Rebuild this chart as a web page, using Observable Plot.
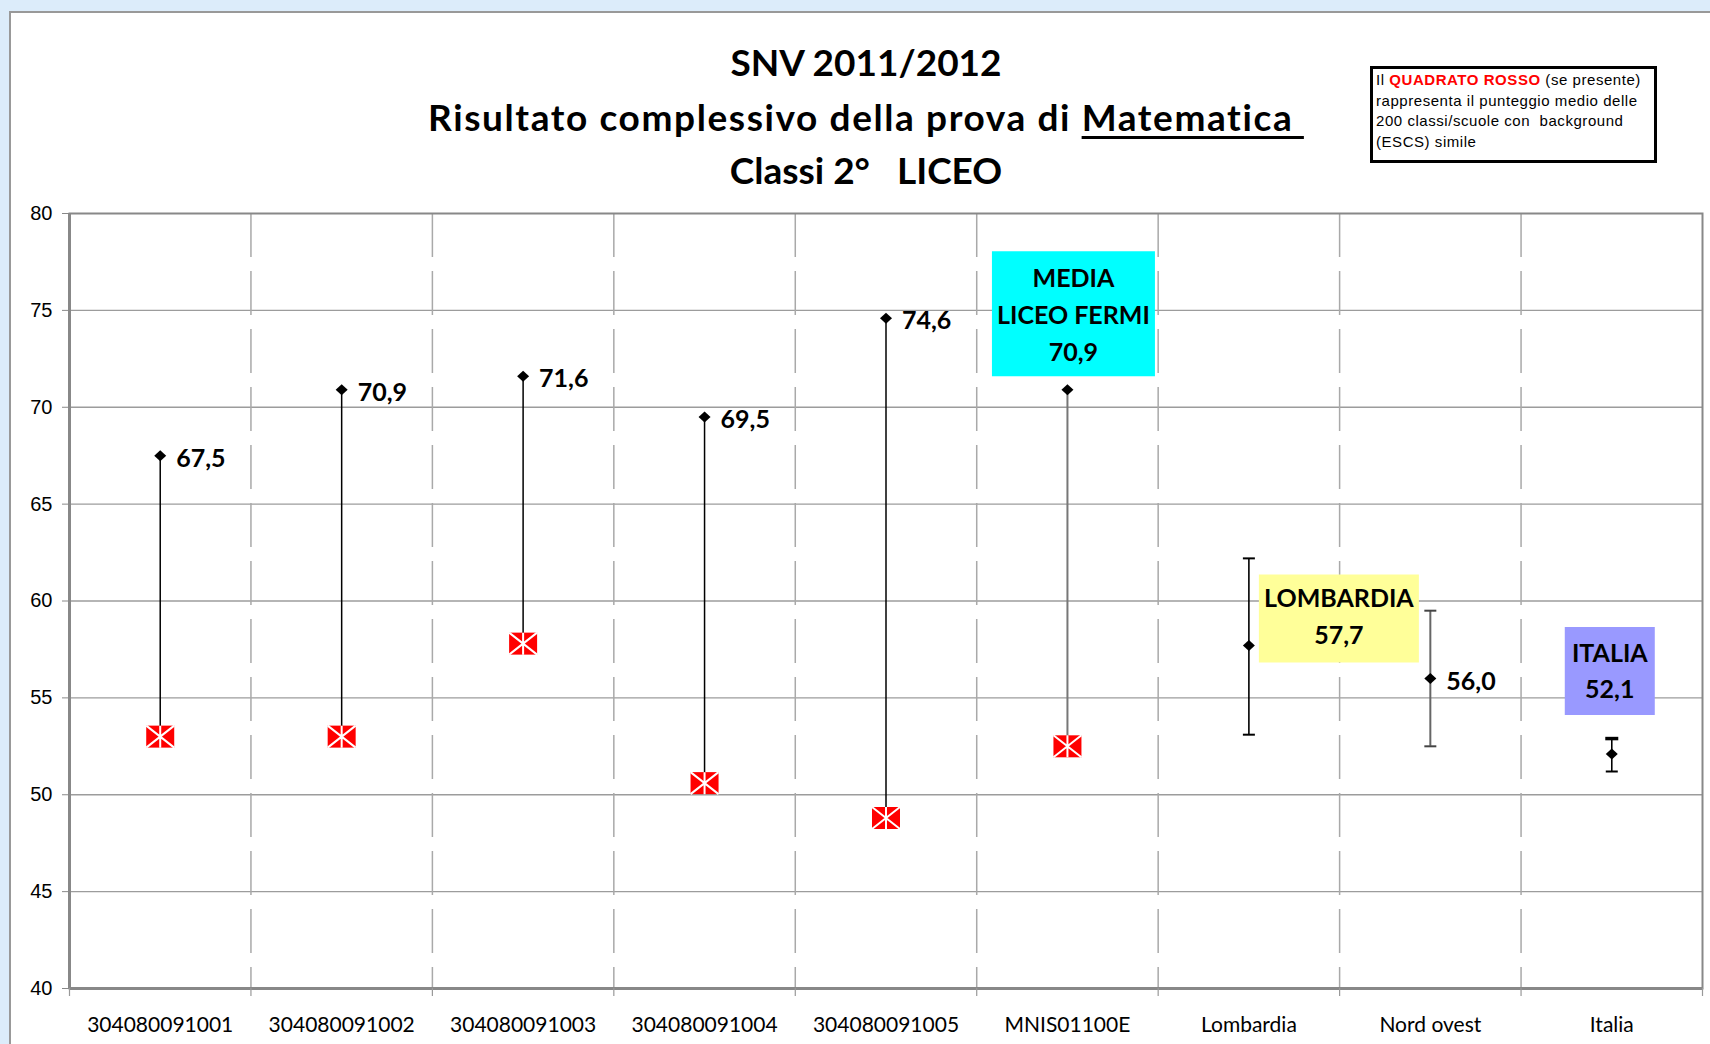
<!DOCTYPE html>
<html>
<head>
<meta charset="utf-8">
<script src="https://cdn.jsdelivr.net/npm/d3@7"></script>
<script src="https://cdn.jsdelivr.net/npm/@observablehq/plot@0.6"></script>
<style>
  html, body { margin: 0; padding: 0; }
  #wrap { position: relative; width: 1710px; height: 1044px; background: #dcecfa; overflow: hidden; }
  #panel { position: absolute; left: 9px; top: 11px; width: 1720px; height: 1060px; background: #fff; border-left: 2px solid #999; border-top: 2px solid #999; }
  #chart { position: absolute; left: 0; top: 0; }
  .title { position: absolute; left: 0; width: 1732px; text-align: center; font-family: Lato, sans-serif; font-weight: 700; font-size: 37px; line-height: 36px; color: #000; white-space: pre; }
  .title u { text-decoration-thickness: 3px; text-underline-offset: 5px; }
  #legend { position: absolute; left: 1370px; top: 66px; width: 278px; height: 90px; border: 3px solid #000; background: #fff;
            font-family: "Liberation Sans", Arial, sans-serif; font-size: 15px; line-height: 20.5px; letter-spacing: 0.55px; padding: 1px 0 0 3px; color: #000; white-space: pre; }
  #legend .red { color: #ff0000; font-weight: bold; }
  #legend div { height: 20.5px; }
</style>
</head>
<body>
<div id="wrap">
  <div id="panel"></div>
  <div id="chart"></div>
  <div class="title" style="top:44px">SNV 2011/2012</div>
  <div class="title" style="top:99px; letter-spacing:1.6px">Risultato complessivo della prova di <u>Matematica&nbsp;</u></div>
  <div class="title" style="top:152px">Classi 2°   LICEO</div>
  <div id="legend"><div><span>Il </span><span class="red">QUADRATO ROSSO</span><span> (se presente)</span></div><div>rappresenta il punteggio medio delle</div><div>200 classi/scuole con  background</div><div>(ESCS) simile</div></div>
</div>
<script>
// ---- data ----
const categories = ["304080091001", "304080091002", "304080091003", "304080091004", "304080091005",
                    "MNIS01100E", "Lombardia", "Nord ovest", "Italia"];
const scores = [67.5, 70.9, 71.6, 69.5, 74.6, 70.9, 57.7, 56.0, 52.1];
const similarBackground = [53.0, 53.0, 57.8, 50.6, 48.8, 52.5, null, null, null];
const ciLow  = [null, null, null, null, null, null, 53.1, 52.5, 51.2];
const ciHigh = [null, null, null, null, null, null, 62.2, 59.5, 52.9];
const yTicks = [40, 45, 50, 55, 60, 65, 70, 75, 80];
const boxTitles = { "MNIS01100E": "MEDIA\nLICEO FERMI", "Lombardia": "LOMBARDIA", "Italia": "ITALIA" };

const fmt = v => d3.format(".1f")(v).replace(".", ",");
const rows = categories.map((c, i) => ({
  cat: c, pos: i + 0.5, score: scores[i], red: similarBackground[i], lo: ciLow[i], hi: ciHigh[i]
}));
const schools = rows.slice(0, 5);
const school = rows[5];
const lomb = rows[6], nord = rows[7], ital = rows[8];

// ---- custom symbols ----
const rectSym = (w, h) => ({ draw(ctx) { ctx.moveTo(-w/2, -h/2); ctx.lineTo(w/2, -h/2); ctx.lineTo(w/2, h/2); ctx.lineTo(-w/2, h/2); ctx.closePath(); } });
const starSym = (w, h) => ({ draw(ctx) {
  ctx.moveTo(-w/2, -h/2); ctx.lineTo(w/2, h/2);
  ctx.moveTo(w/2, -h/2); ctx.lineTo(-w/2, h/2);
  ctx.moveTo(0, -h/2); ctx.lineTo(0, h/2);
} });
const capSym = w => ({ draw(ctx) { ctx.moveTo(-w/2, 0); ctx.lineTo(w/2, 0); } });
const diamondSym = (w, h) => ({ draw(ctx) { ctx.moveTo(0, -h/2); ctx.lineTo(w/2, 0); ctx.lineTo(0, h/2); ctx.lineTo(-w/2, 0); ctx.closePath(); } });

const labelFont = { fontFamily: "Lato, sans-serif", fontWeight: "bold", fontSize: 25, fill: "#000" };
const boundaries = d3.range(1, 9);

const plot = Plot.plot({
  width: 1710, height: 1044,
  marginTop: 213, marginBottom: 56, marginLeft: 69, marginRight: 8,
  style: { background: "transparent", overflow: "visible" },
  x: { domain: [0, 9], label: null },
  y: { domain: [40, 80], label: null },
  marks: [
    Plot.gridY(yTicks.slice(1, -1), { stroke: "#9c9c9c", strokeOpacity: 1, strokeWidth: 1.3 }),
    Plot.ruleX(boundaries, { y1: 80, y2: 40, stroke: "#a9a9a9", strokeWidth: 1.5, strokeDasharray: "44,14" }),
    Plot.frame({ stroke: "#888", strokeWidth: 2 }),
    Plot.ruleX([0], { stroke: "#888", strokeWidth: 3 }),
    Plot.ruleY([40], { stroke: "#888", strokeWidth: 3 }),
    Plot.axisY(yTicks, { tickSize: 7, tickPadding: 10, fontSize: 20, fontFamily: "Liberation Sans, Arial, sans-serif", stroke: "#888", fill: "#000", label: null }),
    Plot.axisX(d3.range(0, 10), { tickSize: 8, tickFormat: () => "", stroke: "#999", strokeWidth: 1.2, label: null }),
    Plot.axisX(rows.map(d => d.pos), { tickSize: 0, tickPadding: 29, tickFormat: d => categories[Math.floor(d)], fontSize: 21, fontFamily: "Lato, sans-serif", fill: "#000", label: null }),

    // lines from school score to similar-background score
    Plot.ruleX(schools, { x: "pos", y1: "score", y2: "red", stroke: "#000", strokeWidth: 1.5 }),
    Plot.ruleX([school], { x: "pos", y1: "score", y2: "red", stroke: "#777", strokeWidth: 2 }),

    // confidence intervals
    Plot.ruleX([lomb], { x: "pos", y1: "lo", y2: "hi", stroke: "#000", strokeWidth: 1.6 }),
    Plot.ruleX([nord], { x: "pos", y1: "lo", y2: "hi", stroke: "#666", strokeWidth: 2 }),
    Plot.ruleX([ital], { x: "pos", y1: "lo", y2: "hi", stroke: "#000", strokeWidth: 1.6 }),
    Plot.dot([lomb], { x: "pos", y: "lo", symbol: capSym(12), r: 3, stroke: "#000", strokeWidth: 2, fill: "none" }),
    Plot.dot([lomb], { x: "pos", y: "hi", symbol: capSym(12), r: 3, stroke: "#000", strokeWidth: 2, fill: "none" }),
    Plot.dot([nord], { x: "pos", y: "lo", symbol: capSym(12), r: 3, stroke: "#444", strokeWidth: 2, fill: "none" }),
    Plot.dot([nord], { x: "pos", y: "hi", symbol: capSym(12), r: 3, stroke: "#444", strokeWidth: 2, fill: "none" }),
    Plot.dot([ital], { x: "pos", y: "lo", symbol: capSym(12), r: 3, stroke: "#000", strokeWidth: 2, fill: "none" }),
    Plot.dot([ital], { x: "pos", y: "hi", symbol: capSym(13), r: 3, stroke: "#000", strokeWidth: 3.5, fill: "none" }),

    // red squares
    Plot.dot(rows.filter(d => d.red != null), { x: "pos", y: "red", symbol: rectSym(28, 22), r: 5, fill: "#ff0000", stroke: "none" }),
    Plot.dot(rows.filter(d => d.red != null), { x: "pos", y: "red", symbol: starSym(28, 22), r: 5, fill: "none", stroke: "#fff", strokeWidth: 2 }),

    // score markers
    Plot.dot(rows, { x: "pos", y: "score", symbol: diamondSym(12, 11), r: 5, fill: "#000", stroke: "none" }),

    // plain value labels
    Plot.text([...schools, nord], { x: "pos", y: "score", text: d => fmt(d.score), textAnchor: "start", dx: 16, dy: 3, ...labelFont }),

    // annotation boxes
    Plot.dot([school], { x: "pos", y: "score", symbol: rectSym(163, 125), r: 5, dx: 6, dy: -76, fill: "#00ffff", stroke: "none" }),
    Plot.text([school], { x: "pos", y: "score", text: d => boxTitles[d.cat] + "\n" + fmt(d.score), dx: 6, dy: -78, lineHeight: 1.48, ...labelFont }),
    Plot.dot([lomb], { x: "pos", y: "score", symbol: rectSym(160, 88), r: 5, dx: 90, dy: -27, fill: "#ffff99", stroke: "none" }),
    Plot.text([lomb], { x: "pos", y: "score", text: d => boxTitles[d.cat] + "\n" + fmt(d.score), dx: 90, dy: -32, lineHeight: 1.48, ...labelFont }),
    Plot.dot([ital], { x: "pos", y: "score", symbol: rectSym(90, 88), r: 5, dx: -2, dy: -83, fill: "#9999ff", stroke: "none" }),
    Plot.text([ital], { x: "pos", y: "score", text: d => boxTitles[d.cat] + "\n" + fmt(d.score), dx: -2, dy: -86, lineHeight: 1.44, ...labelFont })
  ]
});
document.getElementById("chart").appendChild(plot);
</script>
</body>
</html>
